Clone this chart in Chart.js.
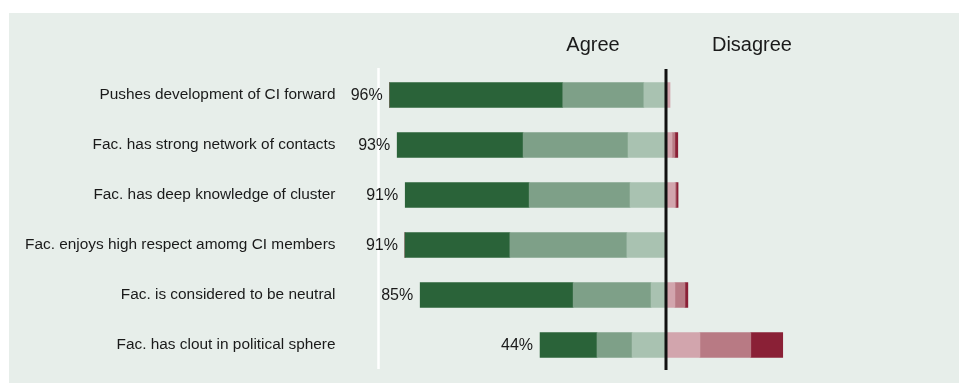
<!DOCTYPE html>
<html>
<head>
    <title>Cluster initiative facilitator - agreement</title>
    <script src="https://cdn.jsdelivr.net/npm/chart.js"></script>
    <style>
        body {
            margin: 0;
            background-color: white;
            font-family: "Liberation Sans", Arial, sans-serif;
        }
        .chart-container {
            position: relative;
            width: 959px;
            height: 383px;
        }
    </style>
</head>
<body>
    <div class="chart-container">
        <canvas id="likertChart"></canvas>
    </div>

    <script>
        const categories = [
            'Pushes development of CI forward',
            'Fac. has strong network of contacts',
            'Fac. has deep knowledge of cluster',
            'Fac. enjoys high respect amomg CI members',
            'Fac. is considered to be neutral',
            'Fac. has clout in political sphere'
        ];

        // shares in percent
        const strongAgree = [60.2, 43.8, 43.1, 36.5, 53.2, 19.8];
        const agree = [28.2, 36.5, 35.1, 40.7, 27.1, 12.2];
        const somewhatAgree = [7.7, 13.2, 12.5, 13.6, 5.2, 11.8];
        const somewhatDisagree = [1.4, 2.1, 3.1, 0, 3.1, 11.8];
        const disagree = [0, 1.0, 0.4, 0, 3.5, 17.7];
        const strongDisagree = [0, 1.0, 0.7, 0, 1.0, 11.1];

        const agreeLabels = ['96%', '93%', '91%', '91%', '85%', '44%'];

        const neg = arr => arr.map(v => -v);

        // background panel, reference lines, percent labels and heading
        const decorations = {
            id: 'decorations',
            beforeDraw(chart) {
                const ctx = chart.ctx;
                ctx.save();
                ctx.fillStyle = '#e7eeea';
                ctx.fillRect(9, 13, chart.width - 9, chart.height - 13);
                // white line at -100%
                const x = chart.scales.x;
                const area = chart.chartArea;
                ctx.strokeStyle = '#ffffff';
                ctx.lineWidth = 2.5;
                ctx.beginPath();
                ctx.moveTo(x.getPixelForValue(-100), area.top - 2);
                ctx.lineTo(x.getPixelForValue(-100), area.bottom - 1);
                ctx.stroke();
                ctx.restore();
            },
            afterDatasetsDraw(chart) {
                const ctx = chart.ctx;
                const x = chart.scales.x;
                const y = chart.scales.y;
                const area = chart.chartArea;
                ctx.save();
                // zero line on top of the bars
                ctx.strokeStyle = '#111111';
                ctx.lineWidth = 3;
                ctx.beginPath();
                ctx.moveTo(x.getPixelForValue(0), area.top - 1);
                ctx.lineTo(x.getPixelForValue(0), area.bottom);
                ctx.stroke();

                ctx.fillStyle = '#1a1a1a';
                ctx.textBaseline = 'middle';
                ctx.font = '16px "Liberation Sans", Arial, sans-serif';
                ctx.textAlign = 'right';
                categories.forEach((c, i) => {
                    const total = strongAgree[i] + agree[i] + somewhatAgree[i];
                    ctx.fillText(agreeLabels[i], x.getPixelForValue(-total) - 7, y.getPixelForValue(i) + 1);
                });
                ctx.font = '20px "Liberation Sans", Arial, sans-serif';
                ctx.textAlign = 'center';
                ctx.fillText('Agree', x.getPixelForValue(-25.4), 45);
                ctx.fillText('Disagree', x.getPixelForValue(29.9), 45);
                ctx.restore();
            }
        };

        const data = {
            labels: categories,
            datasets: [
                { label: 'Somewhat agree', data: neg(somewhatAgree), backgroundColor: '#a9c2b1' },
                { label: 'Agree', data: neg(agree), backgroundColor: '#7ea088' },
                { label: 'Strongly agree', data: neg(strongAgree), backgroundColor: '#2a6339' },
                { label: 'Somewhat disagree', data: somewhatDisagree, backgroundColor: '#d2a5ad' },
                { label: 'Disagree', data: disagree, backgroundColor: '#b87a84' },
                { label: 'Strongly disagree', data: strongDisagree, backgroundColor: '#8a2036' }
            ]
        };

        const config = {
            type: 'bar',
            data: data,
            plugins: [decorations],
            options: {
                indexAxis: 'y',
                responsive: true,
                maintainAspectRatio: false,
                animation: false,
                layout: { padding: { top: 70, bottom: 13, left: 0, right: 5.5 } },
                datasets: { bar: { barThickness: 25, borderWidth: 0 } },
                plugins: {
                    legend: { display: false },
                    tooltip: { enabled: false }
                },
                scales: {
                    x: {
                        display: false,
                        stacked: true,
                        min: -100,
                        max: 100
                    },
                    y: {
                        stacked: true,
                        afterFit: scale => {
                            scale.width = 378.5;
                            scale.paddingTop = 0;
                            scale.paddingBottom = 0;
                        },
                        border: { display: false },
                        grid: { display: false, drawTicks: false },
                        ticks: {
                            padding: 43,
                            color: '#1a1a1a',
                            font: { family: '"Liberation Sans", Arial, sans-serif', size: 15.4 }
                        }
                    }
                }
            }
        };

        new Chart(document.getElementById('likertChart'), config);
    </script>
</body>
</html>
